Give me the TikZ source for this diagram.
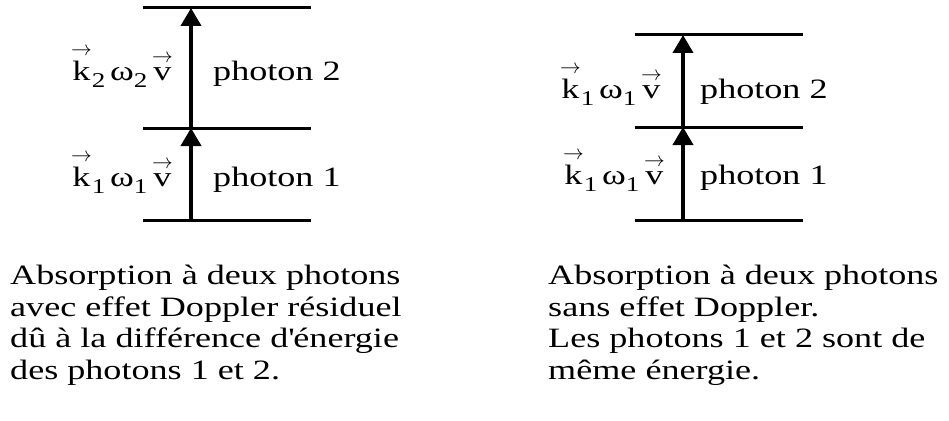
\documentclass[tikz,border=0pt]{standalone}
\usepackage{amsmath}
\usepackage{fontspec}
\setmainfont{Liberation Serif}[FakeStretch=1.29]
\usepackage{tikz}
\usetikzlibrary{positioning, arrows.meta}

\newcommand{\vecl}[1]{\ensuremath{\overset{\scriptstyle\rightarrow}{\mbox{#1}}}}
\newcommand{\lowidx}[1]{\raisebox{-0.28em}{\fontsize{21}{21}\selectfont #1}}

\begin{document}
\begin{tikzpicture}[
    x=1pt, y=-1pt,
    font=\fontsize{28}{31.5}\selectfont,
    level/.style={line width=3pt},
    photon/.style={line width=4pt, -{Triangle[length=18pt, width=20pt]}},
    lab/.style={inner sep=0pt},
    caption/.style={inner sep=0pt, align=left, anchor=base west}
]
\useasboundingbox (0,0) rectangle (949,420);

% Levels
\coordinate (Lbot) at (191,220);
\coordinate (Lmid) at (191,128);
\coordinate (Ltop) at (191,8);
\coordinate (Rbot) at (683,220);
\coordinate (Rmid) at (683,127);
\coordinate (Rtop) at (683,35);

\foreach \lv in {Lbot, Lmid, Ltop, Rbot, Rmid, Rtop}
    \draw[level] ([xshift=-48pt]\lv) -- ([xshift=120pt]\lv);

% Photons
\draw[photon] (Lbot) -- (Lmid);
\draw[photon] (Lmid) -- (Ltop);
\draw[photon] (Rbot) -- (Rmid);
\draw[photon] (Rmid) -- (Rtop);

% Labels
\node[lab, anchor=base east] (Lk2) at (173,80) {\vecl{k}\lowidx{2}\,ω\lowidx{2}\,\vecl{v}};
\node[lab, anchor=base east] (Lk1) at (173,186) {\vecl{k}\lowidx{1}\,ω\lowidx{1}\,\vecl{v}};
\node[lab, anchor=base west] (Lp2) at (213,80) {photon 2};
\node[lab, anchor=base west] (Lp1) at (213,186) {photon 1};

\node[lab, anchor=base east] (Rk2) at (662,98) {\vecl{k}\lowidx{1}\,ω\lowidx{1}\,\vecl{v}};
\node[lab, anchor=base east] (Rk1) at (665,184) {\vecl{k}\lowidx{1}\,ω\lowidx{1}\,\vecl{v}};
\node[lab, anchor=base west] (Rp2) at (700,98) {photon 2};
\node[lab, anchor=base west] (Rp1) at (700,184) {photon 1};

% Captions (anchor is the baseline of the last line)
\node[caption] (Lcap) at (10,379) {Absorption à deux photons\\avec effet Doppler résiduel\\dû à la différence d\textquotesingle énergie\\des photons 1 et 2.};
\node[caption] (Rcap) at (548,379) {Absorption à deux photons\\sans effet Doppler.\\Les photons 1 et 2 sont de\\même énergie.};
\end{tikzpicture}
\end{document}
